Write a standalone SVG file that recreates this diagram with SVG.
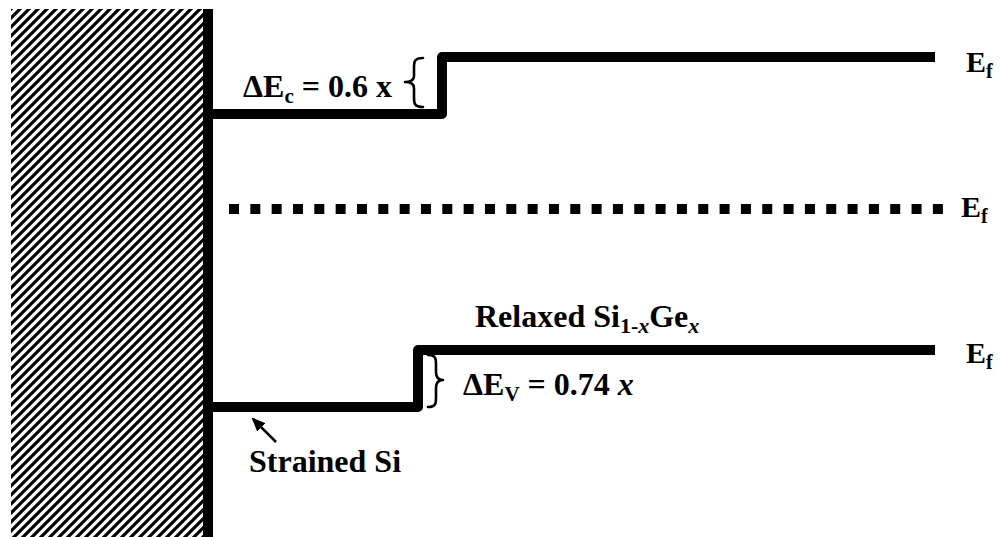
<svg xmlns="http://www.w3.org/2000/svg" width="1000" height="537" viewBox="0 0 1000 537">
<defs>
<pattern id="hatch" patternUnits="userSpaceOnUse" width="9" height="9" x="11" y="9">
<path d="M-2,2 L2,-2 M0,9 L9,0 M7,11 L11,7" stroke="#000" stroke-width="3.2"/>
</pattern>
<marker id="arr" markerWidth="14" markerHeight="12" refX="12" refY="6" orient="auto" markerUnits="userSpaceOnUse">
<path d="M0,0 L14,6 L0,12 Z" fill="#000"/>
</marker>
</defs>
<style>
.band{fill:none;stroke:#000;stroke-width:10;stroke-linejoin:round}
.lbl{font-family:"Liberation Serif","Times New Roman",serif;font-weight:bold;font-size:32px;fill:#000}
.ef{font-family:"Liberation Serif","Times New Roman",serif;font-weight:bold;font-size:30px;fill:#000}
.brace{fill:none;stroke:#000;stroke-width:2.6;stroke-linecap:round;stroke-linejoin:round}
</style>
<rect width="1000" height="537" fill="#fff"/>
<g id="substrate">
<rect x="11" y="9" width="193" height="528" fill="url(#hatch)"/>
<rect x="203" y="9" width="10" height="528" fill="#000"/>
</g>
<g id="connectors">
<path class="band" d="M208,114 H442 V57 H935"/>
<path class="band" d="M208,407 H418 V350 H935"/>
<line x1="229" y1="209" x2="944" y2="209" stroke="#000" stroke-width="10" stroke-dasharray="10 11.33"/>
<line x1="276" y1="442" x2="253" y2="419" stroke="#000" stroke-width="2.5" marker-end="url(#arr)"/>
</g>
<g id="ec-label">
<text class="lbl" x="243" y="97">ΔE<tspan font-size="21" dy="6">c</tspan><tspan dy="-6"> = 0.6 x</tspan></text>
<path class="brace" d="M423,58 C414,58 414,62 414,68 V76 C414,80 411,82 405,82 C411,82 414,84 414,88 V97 C414,103 414,107 423,107"/>
</g>
<g id="ev-label">
<path class="brace" d="M428,355 C436,355 436,359 436,364 V372 C436,377 438,380 443,380 C438,380 436,383 436,388 V397 C436,403 436,407 428,407"/>
<text class="lbl" x="463" y="395">ΔE<tspan font-size="21" dy="6">V</tspan><tspan dy="-6"> = 0.74 </tspan><tspan font-style="italic">x</tspan></text>
</g>
<g id="relaxed-label">
<text class="lbl" x="475" y="327">Relaxed Si<tspan font-size="22" dy="6">1-</tspan><tspan font-size="22" font-style="italic">x</tspan><tspan dy="-6">Ge</tspan><tspan font-size="22" dy="6" font-style="italic">x</tspan></text>
</g>
<g id="strained-label">
<text class="lbl" x="249" y="472">Strained Si</text>
</g>
<g id="ef-labels">
<text class="ef" x="966" y="72">E<tspan font-size="20" dy="6">f</tspan></text>
<text class="ef" x="961" y="217">E<tspan font-size="20" dy="6">f</tspan></text>
<text class="ef" x="966" y="363">E<tspan font-size="20" dy="6">f</tspan></text>
</g>
</svg>
